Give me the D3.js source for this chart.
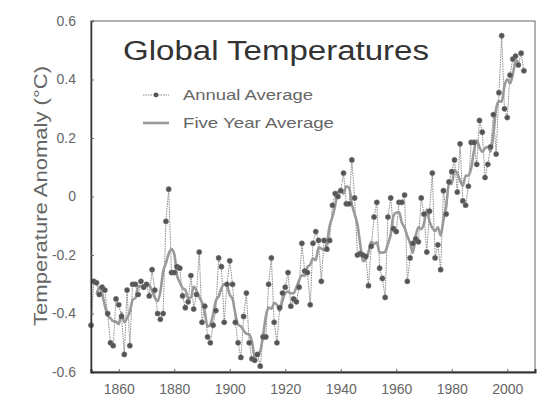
<!DOCTYPE html>
<html><head><meta charset="utf-8">
<script src="https://cdn.jsdelivr.net/npm/d3@7"></script>
<style>html,body{margin:0;padding:0;background:#fff;}svg{display:block;}</style>
</head><body>
<svg id="c" width="552" height="420"></svg>
<script>
const firstYear = 1850;
const annual = [-0.44,-0.29,-0.295,-0.335,-0.31,-0.32,-0.40,-0.50,-0.51,-0.35,
-0.37,-0.41,-0.54,-0.32,-0.51,-0.30,-0.30,-0.335,-0.29,-0.31,
-0.30,-0.34,-0.25,-0.32,-0.40,-0.42,-0.40,-0.085,0.025,-0.26,
-0.26,-0.24,-0.245,-0.34,-0.38,-0.36,-0.27,-0.385,-0.335,-0.19,
-0.43,-0.375,-0.48,-0.50,-0.44,-0.39,-0.21,-0.24,-0.43,-0.30,
-0.22,-0.30,-0.43,-0.50,-0.55,-0.41,-0.33,-0.50,-0.555,-0.56,
-0.54,-0.58,-0.48,-0.48,-0.30,-0.21,-0.43,-0.50,-0.38,-0.33,
-0.31,-0.26,-0.375,-0.35,-0.36,-0.31,-0.16,-0.255,-0.26,-0.37,
-0.16,-0.12,-0.15,-0.29,-0.15,-0.18,-0.15,-0.03,0.01,0.00,
0.02,0.08,-0.025,-0.025,0.125,-0.005,-0.20,-0.195,-0.20,-0.205,
-0.305,-0.17,-0.07,-0.02,-0.245,-0.28,-0.345,-0.07,-0.005,-0.11,
-0.12,-0.02,-0.02,0.005,-0.29,-0.21,-0.16,-0.145,-0.155,-0.005,
-0.06,-0.19,-0.05,0.08,-0.21,-0.165,-0.25,0.02,-0.06,0.05,
0.085,0.125,0.015,0.18,-0.015,-0.03,0.035,0.185,0.185,0.11,
0.26,0.22,0.065,0.11,0.17,0.28,0.145,0.355,0.55,0.30,
0.27,0.415,0.47,0.48,0.45,0.49,0.43];
const fiveFirstYear = 1852;
const fiveYear = [-0.334,-0.31,-0.332,-0.373,-0.408,-0.416,-0.426,-0.428,
-0.436,-0.398,-0.43,-0.416,-0.394,-0.353,-0.347,-0.307,-0.307,-0.315,
-0.298,-0.304,-0.322,-0.346,-0.358,-0.325,-0.256,-0.228,-0.196,-0.180,
-0.196,-0.269,-0.293,-0.313,-0.319,-0.347,-0.346,-0.308,-0.322,-0.343,
-0.362,-0.395,-0.445,-0.437,-0.404,-0.356,-0.342,-0.314,-0.30,-0.305,
-0.336,-0.35,-0.40,-0.438,-0.444,-0.458,-0.469,-0.471,-0.497,-0.547,
-0.543,-0.528,-0.476,-0.41,-0.38,-0.384,-0.364,-0.37,-0.39,-0.356,
-0.331,-0.325,-0.331,-0.331,-0.311,-0.287,-0.269,-0.271,-0.241,-0.233,
-0.212,-0.218,-0.174,-0.178,-0.184,-0.16,-0.10,-0.07,-0.03,0.016,
0.017,0.01,0.035,0.03,-0.026,-0.06,-0.095,-0.161,-0.221,-0.215,
-0.19,-0.154,-0.162,-0.157,-0.192,-0.192,-0.189,-0.162,-0.13,-0.065,
-0.055,-0.053,-0.089,-0.107,-0.135,-0.16,-0.192,-0.135,-0.105,-0.111,
-0.092,-0.045,-0.086,-0.107,-0.119,-0.105,-0.133,-0.081,-0.031,0.044,
0.043,0.091,0.078,0.055,0.037,0.071,0.072,0.097,0.155,0.192,
0.168,0.153,0.165,0.169,0.154,0.212,0.30,0.326,0.324,0.378,
0.401,0.387,0.417,0.461,0.464];
const xTicks = [1860,1880,1900,1920,1940,1960,1980,2000];
const yTicks = [-0.6,-0.4,-0.2,0,0.2,0.4,0.6];
const yTickLabels = ["-0.6","-0.4","-0.2","0","0.2","0.4","0.6"];
const titleText = "Global Temperatures";
const yTitle = "Temperature Anomaly (\u00B0C)";
const legendLabels = ["Annual Average","Five Year Average"];

const svg = d3.select("#c");
const L = 91, R = 535, T = 21, B = 372;
const x = d3.scaleLinear().domain([1850, 2010]).range([L, R]);
const y = d3.scaleLinear().domain([-0.6, 0.6]).range([B, T]);
const font = "'Liberation Sans', Arial, sans-serif";

const ann = annual.map((v,i)=>({yr:firstYear+i, v}));
const five = fiveYear.map((v,i)=>({yr:fiveFirstYear+i, v}));

// frame
svg.append("rect").attr("x",L).attr("y",T).attr("width",R-L).attr("height",B-T)
  .attr("fill","none").attr("stroke","#666").attr("stroke-width",1);

const line = d3.line().x(d=>x(d.yr)).y(d=>y(d.v));
const g = svg.append("g");
g.append("path").datum(ann).attr("d",line).attr("fill","none")
  .attr("stroke","#888").attr("stroke-width",1).attr("stroke-dasharray","1.5,1");
g.append("path").datum(five).attr("d",line.curve(d3.curveMonotoneX)).attr("fill","none")
  .attr("stroke","#9a9a9a").attr("stroke-width",2.6).attr("stroke-linejoin","round");
g.selectAll("circle.a").data(ann).join("circle").attr("class","a")
  .attr("cx",d=>x(d.yr)).attr("cy",d=>y(d.v)).attr("r",2.6)
  .attr("fill","#555").attr("stroke","#777").attr("stroke-width",0.5);

// axes
const yAxis = d3.axisLeft(y).tickValues(yTicks).tickFormat((d,i)=>yTickLabels[i]).tickSize(-3).tickPadding(15);
const ya = svg.append("g").attr("transform",`translate(${L},0)`).call(yAxis);
ya.select(".domain").attr("stroke","#333").attr("stroke-width",1.5);
ya.selectAll(".tick line").attr("stroke","#666");
ya.selectAll("text").attr("font-family",font).attr("font-size",14).attr("fill","#666");

const xAxis = d3.axisBottom(x).tickValues(xTicks).tickFormat(d3.format("d")).tickSize(-3).tickPadding(12);
const xa = svg.append("g").attr("transform",`translate(0,${B})`).call(xAxis);
xa.select(".domain").attr("stroke","#333").attr("stroke-width",2);
xa.selectAll(".tick line").attr("stroke","#666");
xa.selectAll("text").attr("font-family",font).attr("font-size",14).attr("fill","#666");

// y title
svg.append("text").attr("transform","translate(47,196) rotate(-90)")
  .attr("text-anchor","middle").attr("font-family",font).attr("font-size",18)
  .attr("fill","#666").attr("textLength",260).attr("lengthAdjust","spacingAndGlyphs").text(yTitle);

// title
svg.append("text").attr("x",123).attr("y",60).attr("font-family",font).attr("font-size",27)
  .attr("fill","#333").attr("textLength",306).attr("lengthAdjust","spacingAndGlyphs").text(titleText);

// legend
const lg = svg.append("g");
lg.append("line").attr("x1",143).attr("x2",169).attr("y1",95).attr("y2",95)
  .attr("stroke","#888").attr("stroke-width",1).attr("stroke-dasharray","1.5,1");
lg.append("circle").attr("cx",156).attr("cy",95).attr("r",2.4).attr("fill","#555");
lg.append("line").attr("x1",143).attr("x2",169).attr("y1",123).attr("y2",123)
  .attr("stroke","#9a9a9a").attr("stroke-width",2.6);
lg.append("text").attr("x",183).attr("y",100).attr("font-family",font).attr("font-size",15)
  .attr("fill","#666").attr("textLength",130).attr("lengthAdjust","spacingAndGlyphs").text(legendLabels[0]);
lg.append("text").attr("x",183).attr("y",128).attr("font-family",font).attr("font-size",15)
  .attr("fill","#666").attr("textLength",151).attr("lengthAdjust","spacingAndGlyphs").text(legendLabels[1]);
</script>
</body></html>
